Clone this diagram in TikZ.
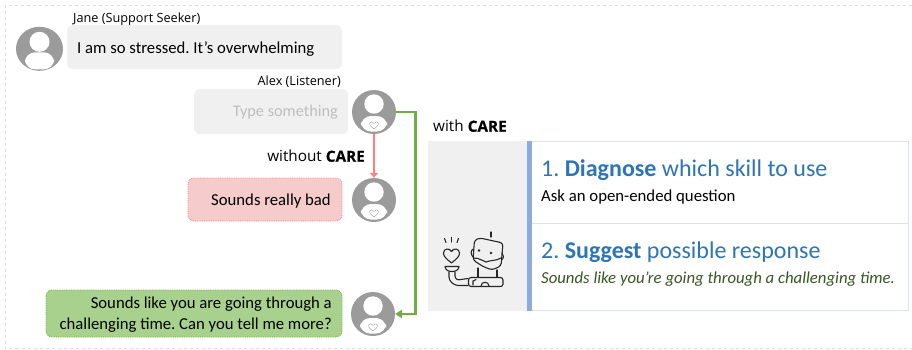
\documentclass[tikz,border=0pt]{standalone}
\usepackage{fontspec}
\setmainfont{Carlito}
\newfontfamily\labelfont[BoldFeatures={FakeBold=0.6}]{Open Sans}
\usetikzlibrary{arrows.meta,shapes.geometric}
\definecolor{bubblegray}{HTML}{F0F0F0}
\definecolor{avatargray}{HTML}{9B9B9B}
\definecolor{framegray}{HTML}{DEDEDE}
\definecolor{redfill}{HTML}{F5CBCB}
\definecolor{redline}{HTML}{FF8080}
\definecolor{greenfill}{HTML}{A9D18E}
\definecolor{greenline}{HTML}{70AD47}
\definecolor{panelline}{HTML}{DAE3F3}
\definecolor{barblue}{HTML}{8FAADC}
\definecolor{headblue}{HTML}{2E75B6}
\definecolor{suggestgreen}{HTML}{385723}
\tikzset{
  x=1pt,y=-1pt,
  bubble/.style={rounded corners=6pt,fill=bubblegray,draw=none},
  redbubble/.style={rounded corners=6pt,fill=redfill,draw=redline,densely dotted,line width=.8pt},
  greenbubble/.style={rounded corners=6pt,fill=greenfill,draw=greenline,densely dotted,line width=.8pt},
  msg/.style={font=\fontsize{16.7}{21.5}\selectfont,text=black,inner sep=0pt},
  who/.style={font=\labelfont\fontsize{12.7}{15}\selectfont,inner sep=0pt},
  tag/.style={font=\labelfont\fontsize{15.3}{18}\selectfont,inner sep=0pt},
  avatar/.style={ellipse,fill=avatargray,minimum width=44pt,minimum height=44pt,inner sep=0pt},
  headline/.style={font=\fontsize{24}{28}\selectfont,text=headblue,inner sep=0pt,anchor=west},
  subline/.style={font=\fontsize{16.75}{20}\selectfont,inner sep=0pt,anchor=west},
  robotline/.style={line width=1.1pt,draw=black!85,line cap=round,line join=round},
  pics/person/.style={code={
    \fill[white] (0,-7) circle (10);
    \begin{scope}
      \clip (0,0) ellipse (23.5 and 22);
      \fill[white,rounded corners=10pt] (-14.5,3.5) rectangle (14.5,20.5);
    \end{scope}
  }},
  pics/personheart/.style={code={
    \fill[white] (0,-8) circle (9.7);
    \begin{scope}
      \clip (0,0) circle (22);
      \fill[white,rounded corners=10pt] (-13,4) rectangle (13,19.5);
    \end{scope}
    \draw[black!45,line width=.3pt] (0,17) .. controls (-4,14) and (-5,12.5) .. (-4.4,11) .. controls (-3.6,9.4) and (-1,9.4) .. (0,11.4) .. controls (1,9.4) and (3.6,9.4) .. (4.4,11) .. controls (5,12.5) and (4,14) .. (0,17) -- cycle;
  }}
}
\begin{document}
\frenchspacing
\begin{tikzpicture}
\useasboundingbox (0,0) rectangle (912,349);
\fill[white] (0,0) rectangle (912,349);
\draw[framegray,dashed,line width=1pt] (912,5.5) -- (5,5.5) -- (5,348) -- (912,348);

% chat
\fill[bubble] (67,25) rectangle (342,69);
\node[msg,anchor=west] (janetext) at (77,48.7) {I am so stressed. It’s overwhelming};
\node[who,anchor=west] (jane) at (73,19) {Jane (Support Seeker)};
\node[avatar,minimum width=47pt] (janeface) at (39.5,48.8) {};
\pic at (39.5,48.8) {person};

\fill[bubble] (194,89) rectangle (348,134);
\node[msg,anchor=east,text=black!25,font=\fontsize{16.3}{20}\selectfont] (typetext) at (338,112.7) {Type something};
\node[who,anchor=east] (alex) at (341,82) {Alex (Listener)};
\node[avatar] (alexface) at (374,112) {};
\pic at (374,112) {personheart};

\node[tag,anchor=east] (without) at (365,156) {without \textbf{CARE}};

\fill[redbubble] (188,178) rectangle (342,221);
\node[msg,anchor=east] (redtext) at (331,200.7) {Sounds really bad};
\node[avatar] (redface) at (374,200) {};
\pic at (374,200) {personheart};

\fill[greenbubble] (46,290) rectangle (342,337);
\node[msg,align=right,anchor=east] (greentext) at (332,314.7) {Sounds like you are going through a\\challenging time. Can you tell me more?};
\node[avatar] (greenface) at (373,314) {};
\pic at (373,314) {personheart};

% connectors
\draw[redline,line width=2.8pt,-{Triangle[length=5pt,width=8pt]}] (alexface) -- (redface);
\draw[greenline,line width=2.8pt,-{Triangle[length=7pt,width=8.5pt]}] (alexface.east) -- (415.5,112) -- (415.5,314) -- (greenface.east);

% panel
\node[tag,anchor=west] (withcare) at (433,126) {with \textbf{CARE}};
\fill[bubblegray] (428,141) rectangle (527,311);
\draw[panelline,line width=.9pt] (532,141.5) -- (908.5,141.5) -- (908.5,310.5) -- (532,310.5);
\draw[panelline,line width=.9pt] (532,223) -- (908.5,223);
\fill[barblue] (527,141) rectangle (532,311);
\node[headline] (diag) at (541,170) {1. \textbf{Diagnose} which skill to use};
\node[subline] (ask) at (541,197) {Ask an open-ended question};
\node[headline] (sugg) at (541,252) {2. \textbf{Suggest} possible response};
\node[subline,text=suggestgreen] (resp) at (541,279) {\itshape Sounds like you’re going through a challenging time.};

% robot
\begin{scope}[robotline]
  % rays
  \draw (444.5,238.5) -- (446,242.5);
  \draw (451.5,237.5) -- (451.5,242);
  \draw (458.5,238.5) -- (457,242.5);
  % heart
  \draw (451.5,263) .. controls (446,258.5) and (443.5,256.5) .. (443.5,253) .. controls (443.5,248.5) and (449.5,247.5) .. (451.5,251.5) .. controls (453.5,247.5) and (459.5,248.5) .. (459.5,253) .. controls (459.5,256.5) and (457,258.5) .. (451.5,263) -- cycle;
  % cup and pipe
  \draw (445,266.5) -- (459,266.5) .. controls (458.5,270) and (456,271.5) .. (452,271.5) .. controls (448,271.5) and (445.5,270) .. (445,266.5) -- cycle;
  \draw (449,272) -- (449,277) .. controls (449,281) and (453,285) .. (458,285.5) -- (468,285.5);
  \draw (455,272) -- (455,276) .. controls (455,279) and (458,280.5) .. (461,279.5) -- (468,278.5);
  % base
  \draw[rounded corners=2.5pt] (468.5,277.5) rectangle (503,286.5);
  \draw (473,285) -- (473,281) -- (476,279.5);
  \draw (481,286) .. controls (481,281) and (489,281) .. (489,286);
  % neck
  \draw (478,277) -- (478,268);
  \draw (497,277) -- (497,270);
  % head
  \draw[rounded corners=3pt] (480,238) -- (503,243) -- (501,266) -- (492,270) -- (483,266.5) -- (473,260) -- (474.5,240) -- cycle;
  \draw (491,237) -- (491,232);
  \fill[black!85] (479,250.5) circle (1.4);
  \fill[black!85] (491,253) circle (1.4);
  \draw (473,249) .. controls (470.5,251) and (470.5,254) .. (473,257);
  \draw (502,253) .. controls (504,255) and (504,258) .. (501.5,260);
  \draw (474,258) .. controls (480,258) and (482,261) .. (486,262) .. controls (491,260) and (496,261) .. (501,258);
\end{scope}
\end{tikzpicture}
\end{document}
